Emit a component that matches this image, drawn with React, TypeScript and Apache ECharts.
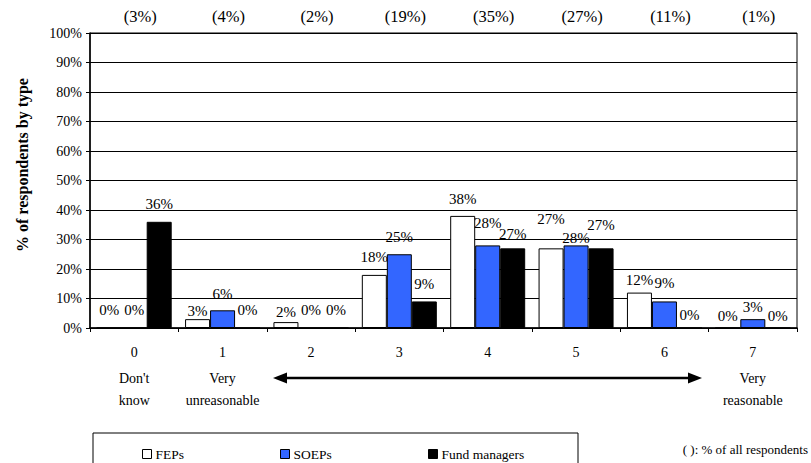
import React, { useEffect, useRef } from "react";
import * as echarts from "echarts";

const categories = ["0", "1", "2", "3", "4", "5", "6", "7"];
const categoryNotes = ["Don't\nknow", "Very\nunreasonable", "", "", "", "", "", "Very\nreasonable"];
const shareOfAll = ["(3%)", "(4%)", "(2%)", "(19%)", "(35%)", "(27%)", "(11%)", "(1%)"];
const seriesNames = ["FEPs", "SOEPs", "Fund managers"];
const feps = [0, 3, 2, 18, 38, 27, 12, 0];
const soeps = [0, 6, 0, 25, 28, 28, 9, 3];
const fundManagers = [36, 0, 0, 9, 27, 27, 0, 0];
const yTicks = [0, 100, 10];

// label vertical adjustments (style only, px, positive = higher)
const labelLift = [
  [0, -9, -7.5, 0, -1, 11.5, -4.5, -5.5],
  [0, -1.5, 0, 0, 5, -10, 1, -5.5],
  [0, 0, 0, 0, -3, 5.5, -5, -5.5],
];

const FONT = "Liberation Serif, DejaVu Serif, serif";

export default function App() {
  const ref = useRef<HTMLDivElement>(null);
  useEffect(() => {
    document.body.style.margin = "0";
    if (!ref.current) return;
    const chart = echarts.init(ref.current, undefined, { renderer: "svg" });
    const values = [feps, soeps, fundManagers];
    const colors = ["#ffffff", "#3366ff", "#000000"];
    const series = values.map((arr, s) => ({
      name: seriesNames[s],
      type: "bar",
      xAxisIndex: 0,
      barWidth: 25,
      barGap: "0%",
      itemStyle: { color: colors[s], borderColor: "#000", borderWidth: 1 },
      label: {
        show: true,
        position: "top",
        distance: 10,
        fontFamily: FONT,
        fontSize: 15,
        color: "#000",
        formatter: (p: any) => p.value + "%",
      },
      data: arr.map((v, i) => ({ value: v, label: { offset: [0, -labelLift[s][i]] } })),
    }));
    chart.setOption({
      animation: false,
      textStyle: { fontFamily: FONT },
      grid: { left: 90, right: 14, top: 33, bottom: 135, show: true, borderColor: "#000", borderWidth: 1 },
      xAxis: [
        {
          type: "category",
          data: categories,
          position: "bottom",
          axisLine: { lineStyle: { color: "#000", width: 1.5 } },
          axisTick: { show: true, length: 4, lineStyle: { color: "#000" } },
          axisLabel: {
            interval: 0,
            margin: 9,
            color: "#000",
            formatter: (v: string, i: number) => {
              const note = categoryNotes[i];
              if (!note) return `{n|${v}}`;
              return `{n|${v}}\n` + note.split("\n").map((t) => `{t|${t}}`).join("\n");
            },
            rich: {
              n: { fontFamily: FONT, fontSize: 14, lineHeight: 30, color: "#000" },
              t: { fontFamily: FONT, fontSize: 14, lineHeight: 22, color: "#000" },
            },
          },
        },
        {
          type: "category",
          data: shareOfAll,
          position: "top",
          axisLine: { show: false },
          axisTick: { show: false },
          axisLabel: {
            interval: 0,
            margin: 8,
            fontFamily: FONT,
            fontSize: 16.5,
            color: "#000",
            padding: [0, 0, 0, 12],
          },
        },
      ],
      yAxis: {
        type: "value",
        min: yTicks[0],
        max: yTicks[1],
        interval: yTicks[2],
        axisLine: { show: true, lineStyle: { color: "#000", width: 1.5 } },
        axisTick: { show: true, length: 4, lineStyle: { color: "#000" } },
        splitLine: { lineStyle: { color: "#000", width: 1 } },
        axisLabel: { margin: 8, fontFamily: FONT, fontSize: 14, color: "#000", formatter: "{value}%" },
      },
      legend: seriesNames.map((n, i) => ({
        data: [n],
        left: [137, 275, 423][i],
        top: 442,
        icon: "rect",
        itemWidth: 9,
        itemHeight: 9,
        itemGap: 4,
        selectedMode: false,
        itemStyle: { borderColor: "#000", borderWidth: 1 },
        textStyle: { fontFamily: FONT, fontSize: 13.5, color: "#000", padding: [0, 0, 0, -1] },
      })),
      graphic: [
        {
          type: "text",
          x: 22,
          y: 165,
          rotation: Math.PI / 2,
          style: {
            text: "% of respondents by type",
            fontFamily: FONT,
            fontSize: 16,
            fontWeight: "bold",
            fill: "#000",
            align: "center",
            verticalAlign: "middle",
          },
        },
        {
          type: "rect",
          shape: { x: 93, y: 433, width: 485, height: 40 },
          style: { fill: "none", stroke: "#000", lineWidth: 1 },
        },
        {
          type: "text",
          x: 808,
          y: 449,
          style: {
            text: "( ): % of all respondents",
            fontFamily: FONT,
            fontSize: 13,
            fill: "#000",
            align: "right",
            verticalAlign: "middle",
          },
        },
        {
          type: "line",
          shape: { x1: 284, y1: 378, x2: 691, y2: 378 },
          style: { stroke: "#000", lineWidth: 2.5 },
        },
        {
          type: "polygon",
          shape: { points: [[273, 378], [287, 372.5], [287, 383.5]] },
          style: { fill: "#000" },
        },
        {
          type: "polygon",
          shape: { points: [[702, 378], [688, 372.5], [688, 383.5]] },
          style: { fill: "#000" },
        },
      ],
      series,
    });
    return () => chart.dispose();
  }, []);
  return <div ref={ref} style={{ width: 811, height: 463 }} />;
}
